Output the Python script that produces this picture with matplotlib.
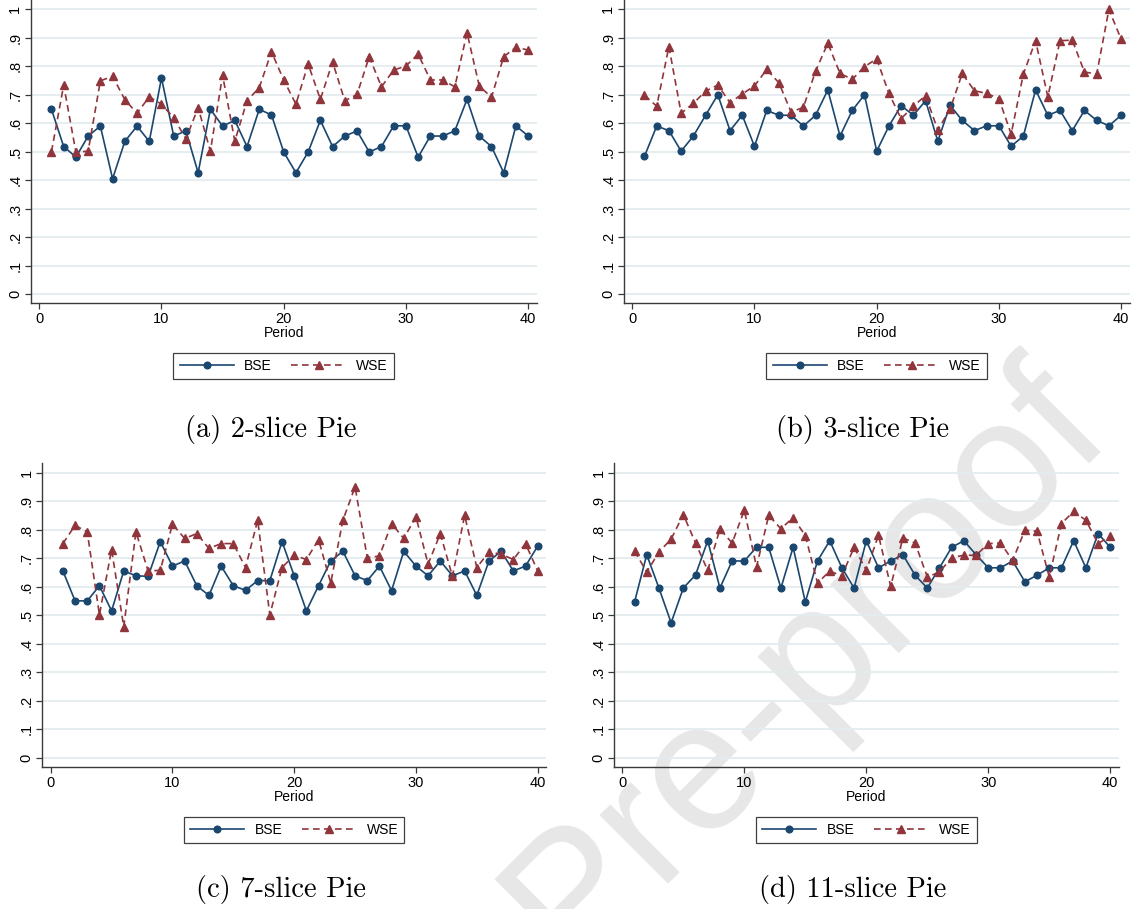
import numpy as np
import matplotlib
matplotlib.use("Agg")
import matplotlib.pyplot as plt

plt.rcParams['font.family'] = ['Liberation Sans', 'DejaVu Sans']

# Datos
period = list(range(1, 41))

bse_2 = [0.649, 0.518, 0.481, 0.555, 0.590, 0.405, 0.536, 0.590, 0.536, 0.759,
         0.555, 0.573, 0.426, 0.649, 0.590, 0.610, 0.518, 0.649, 0.629, 0.499,
         0.426, 0.499, 0.610, 0.518, 0.555, 0.573, 0.499, 0.518, 0.591, 0.591,
         0.481, 0.555, 0.555, 0.573, 0.684, 0.555, 0.518, 0.426, 0.591, 0.555]
wse_2 = [0.500, 0.734, 0.498, 0.502, 0.749, 0.765, 0.683, 0.635, 0.693, 0.667,
         0.619, 0.545, 0.655, 0.502, 0.769, 0.537, 0.679, 0.725, 0.851, 0.752,
         0.667, 0.808, 0.684, 0.815, 0.679, 0.701, 0.834, 0.728, 0.787, 0.801,
         0.843, 0.752, 0.752, 0.728, 0.918, 0.731, 0.691, 0.834, 0.867, 0.857]

bse_3 = [0.484, 0.590, 0.574, 0.502, 0.555, 0.628, 0.700, 0.574, 0.628, 0.519,
         0.645, 0.628, 0.628, 0.590, 0.628, 0.717, 0.555, 0.645, 0.700, 0.502,
         0.590, 0.662, 0.628, 0.679, 0.537, 0.663, 0.610, 0.574, 0.591, 0.591,
         0.519, 0.555, 0.717, 0.628, 0.645, 0.574, 0.645, 0.610, 0.591, 0.628]
wse_3 = [0.698, 0.660, 0.869, 0.635, 0.670, 0.713, 0.734, 0.672, 0.703, 0.731,
         0.789, 0.742, 0.639, 0.656, 0.783, 0.881, 0.775, 0.754, 0.799, 0.826,
         0.705, 0.616, 0.660, 0.697, 0.576, 0.649, 0.775, 0.714, 0.705, 0.686,
         0.562, 0.773, 0.890, 0.693, 0.890, 0.892, 0.780, 0.773, 1.000, 0.895]

bse_7 = [0.656, 0.551, 0.551, 0.604, 0.516, 0.656, 0.639, 0.637, 0.759, 0.673,
         0.691, 0.604, 0.570, 0.673, 0.604, 0.588, 0.622, 0.622, 0.759, 0.639,
         0.516, 0.604, 0.691, 0.725, 0.639, 0.622, 0.673, 0.587, 0.725, 0.673,
         0.639, 0.691, 0.639, 0.656, 0.570, 0.691, 0.725, 0.656, 0.673, 0.743]
wse_7 = [0.752, 0.816, 0.793, 0.502, 0.731, 0.460, 0.793, 0.656, 0.658, 0.820,
         0.770, 0.787, 0.735, 0.752, 0.752, 0.668, 0.834, 0.502, 0.668, 0.711,
         0.696, 0.766, 0.614, 0.834, 0.951, 0.703, 0.708, 0.822, 0.770, 0.846,
         0.680, 0.787, 0.637, 0.851, 0.668, 0.723, 0.715, 0.696, 0.752, 0.656]

bse_11 = [0.547, 0.713, 0.596, 0.474, 0.596, 0.642, 0.762, 0.596, 0.691, 0.691,
          0.739, 0.739, 0.596, 0.739, 0.547, 0.691, 0.762, 0.667, 0.596, 0.762,
          0.667, 0.691, 0.713, 0.641, 0.596, 0.667, 0.739, 0.762, 0.713, 0.667,
          0.667, 0.691, 0.618, 0.641, 0.667, 0.667, 0.762, 0.667, 0.787, 0.739]
wse_11 = [0.726, 0.652, 0.722, 0.768, 0.854, 0.754, 0.658, 0.803, 0.754, 0.869,
          0.670, 0.851, 0.804, 0.843, 0.780, 0.614, 0.655, 0.639, 0.739, 0.658,
          0.781, 0.602, 0.772, 0.754, 0.635, 0.652, 0.703, 0.711, 0.711, 0.752,
          0.754, 0.693, 0.799, 0.795, 0.635, 0.822, 0.865, 0.834, 0.752, 0.778]

xticks = [0, 10, 20, 30, 40]
yticks = [0.0, 0.1, 0.2, 0.3, 0.4, 0.5, 0.6, 0.7, 0.8, 0.9, 1.0]
ytick_labels = ["0", ".1", ".2", ".3", ".4", ".5", ".6", ".7", ".8", ".9", "1"]

paneles = [
    ("(a) 2-slice Pie", bse_2, wse_2),
    ("(b) 3-slice Pie", bse_3, wse_3),
    ("(c) 7-slice Pie", bse_7, wse_7),
    ("(d) 11-slice Pie", bse_11, wse_11),
]

W, H = 1133, 909
# posiciones en pixeles: izquierda, abajo (desde arriba), ancho, alto
cajas = [(30.7, 303.4, 506, 303.4), (623.7, 303.4, 506, 303.4),
         (42.2, 767.3, 504, 303.8), (613.8, 767.3, 505, 303.8)]
captions_xy = [(270.5, 429), (863, 429), (281, 890), (852.5, 890)]

navy = "#1a476f"
maroon = "#90353b"
grid_col = "#e4ecef"
axis_col = "#3a3a3a"

fig = plt.figure(figsize=(W / 100, H / 100), dpi=100)
fig.patch.set_facecolor("white")

# marca de agua
fig.text(806 / W, 1 - 664 / H, "Pre-proof", fontsize=132, color="#e7e7e7",
         rotation=45, ha="center", va="center", rotation_mode="anchor", zorder=-5)

for (titulo, bse, wse), (l, b, w, h), (cx, cy) in zip(paneles, cajas, captions_xy):
    ax = fig.add_axes([l / W, 1 - b / H, w / W, h / H])
    ax.set_facecolor("none")
    ax.plot(period, bse, color=navy, lw=1.2, marker="o", ms=4.8, label="BSE")
    ax.plot(period, wse, color=maroon, lw=1.2, ls="--", dashes=(4.0, 2.6),
            marker="^", ms=5.4, label="WSE")
    ax.set_xlim(-0.7, 40.7)
    ax.set_ylim(-0.033, 1.033)
    ax.set_xticks(xticks)
    ax.set_yticks(yticks)
    ax.set_yticklabels(ytick_labels, rotation=90, va="center")
    ax.grid(axis="y", color=grid_col, lw=1.3)
    ax.set_axisbelow(True)
    for s in ["top", "right"]:
        ax.spines[s].set_visible(False)
    for s in ["left", "bottom"]:
        ax.spines[s].set_color(axis_col)
        ax.spines[s].set_linewidth(1.0)
    ax.tick_params(length=4, width=0.9, color=axis_col, labelsize=10.5, pad=2)
    ax.set_xlabel("Period", fontsize=10, labelpad=0)
    ax.legend(loc="upper center", bbox_to_anchor=(0.5, -0.163), ncol=2,
              fontsize=10, frameon=True, fancybox=False, edgecolor="#404040",
              framealpha=1, borderpad=0.45, handlelength=3.9, handletextpad=0.75,
              columnspacing=1.4, borderaxespad=0, numpoints=1)
    ax.get_legend().get_frame().set_linewidth(0.9)
    fig.text(cx / W, 1 - cy / H, titulo, family="cmr10", fontsize=20.5,
             ha="center", va="center")

fig.savefig("out.png", dpi=100)
